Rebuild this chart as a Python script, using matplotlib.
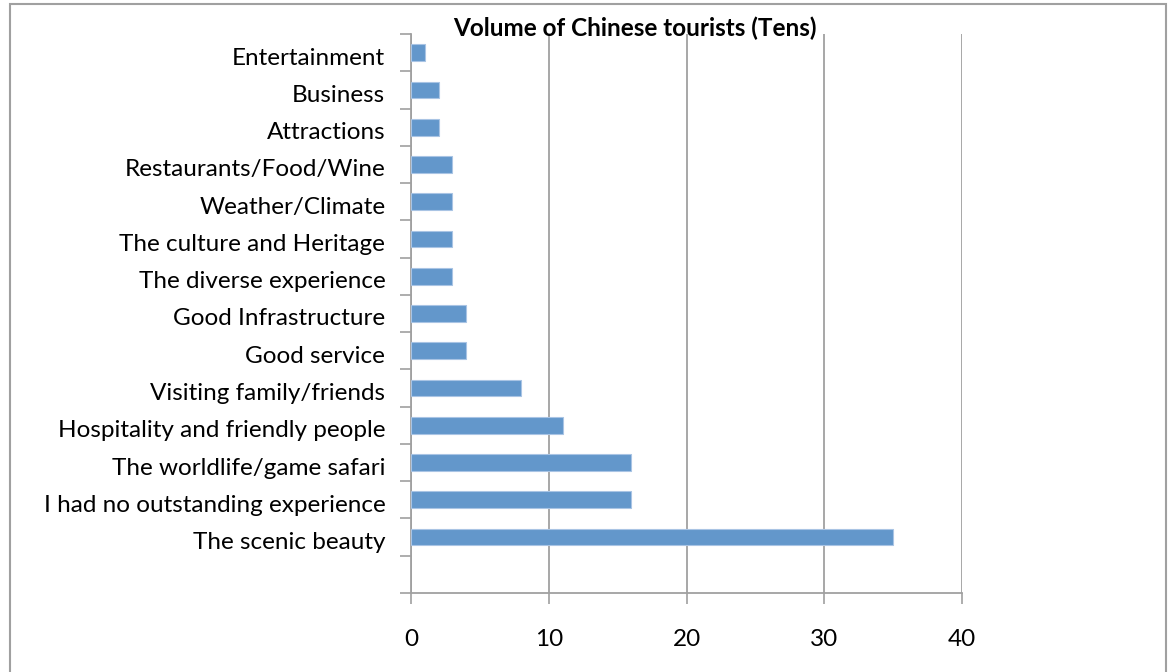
import numpy as np
import matplotlib
matplotlib.use('Agg')
import matplotlib.pyplot as plt
import matplotlib.transforms as mtransforms
from matplotlib.patches import Rectangle

plt.rcParams['font.family'] = ['Lato', 'DejaVu Sans']

# categories listed bottom -> top
categories = [
    "The scenic beauty",
    "I had no outstanding experience",
    "The worldlife/game safari",
    "Hospitality and friendly people",
    "Visiting family/friends",
    "Good service",
    "Good Infrastructure",
    "The diverse experience",
    "The culture and Heritage",
    "Weather/Climate",
    "Restaurants/Food/Wine",
    "Attractions",
    "Business",
    "Entertainment",
]
volumes = [35, 16, 16, 11, 8, 4, 4, 3, 3, 3, 3, 2, 2, 1]
x_ticks = [0, 10, 20, 30, 40]

grey = '#A0A0A0'
bar_col = '#6397CB'

fig = plt.figure(figsize=(11.68, 6.72), dpi=100)
ax = fig.add_axes([411/1168, 1 - 593/672, (962 - 411)/1168, (593 - 34)/672])

pos = np.arange(len(categories)) + 1.5
ax.barh(pos, volumes, height=0.45, color=bar_col, edgecolor='#A9C4E4', linewidth=0.8, zorder=3)

ax.set_xlim(0, 40)
ax.set_ylim(0, 15)
ax.set_xticks(x_ticks)
ax.set_xticklabels([str(t) for t in x_ticks], fontsize=17.5)
ax.set_yticks(np.arange(0, 16))
ax.set_yticklabels([])
ax.set_yticks(pos, minor=True)
ax.set_yticklabels(categories, minor=True, fontsize=17.5)
ax.tick_params(axis='y', which='minor', length=0, pad=18.5)
ax.tick_params(axis='y', which='major', length=8, width=1.2, color=grey, direction='out')
ax.tick_params(axis='x', length=8, width=1.2, color=grey, direction='out', pad=18)

# nudge category labels down a touch
shift = mtransforms.ScaledTranslation(0, -2.5/72, fig.dpi_scale_trans)
for lbl in ax.get_yticklabels(minor=True):
    lbl.set_transform(lbl.get_transform() + shift)

ax.grid(axis='x', color=grey, linewidth=1.3, zorder=0)
for s in ['top', 'right']:
    ax.spines[s].set_visible(False)
for s in ['left', 'bottom']:
    ax.spines[s].set_color(grey)
    ax.spines[s].set_linewidth(1.3)

fig.text(635/1168, 1 - 28/672, "Volume of Chinese tourists (Tens)", ha='center', va='center',
         fontsize=17.5, fontweight='bold')

# outer chart border
fig.patches.append(Rectangle((10/1168, -0.01), (1166 - 10)/1168, 1.01 - 4/672,
                             transform=fig.transFigure, fill=False, edgecolor=grey, linewidth=1.5))

fig.savefig('out.png', dpi=100)
